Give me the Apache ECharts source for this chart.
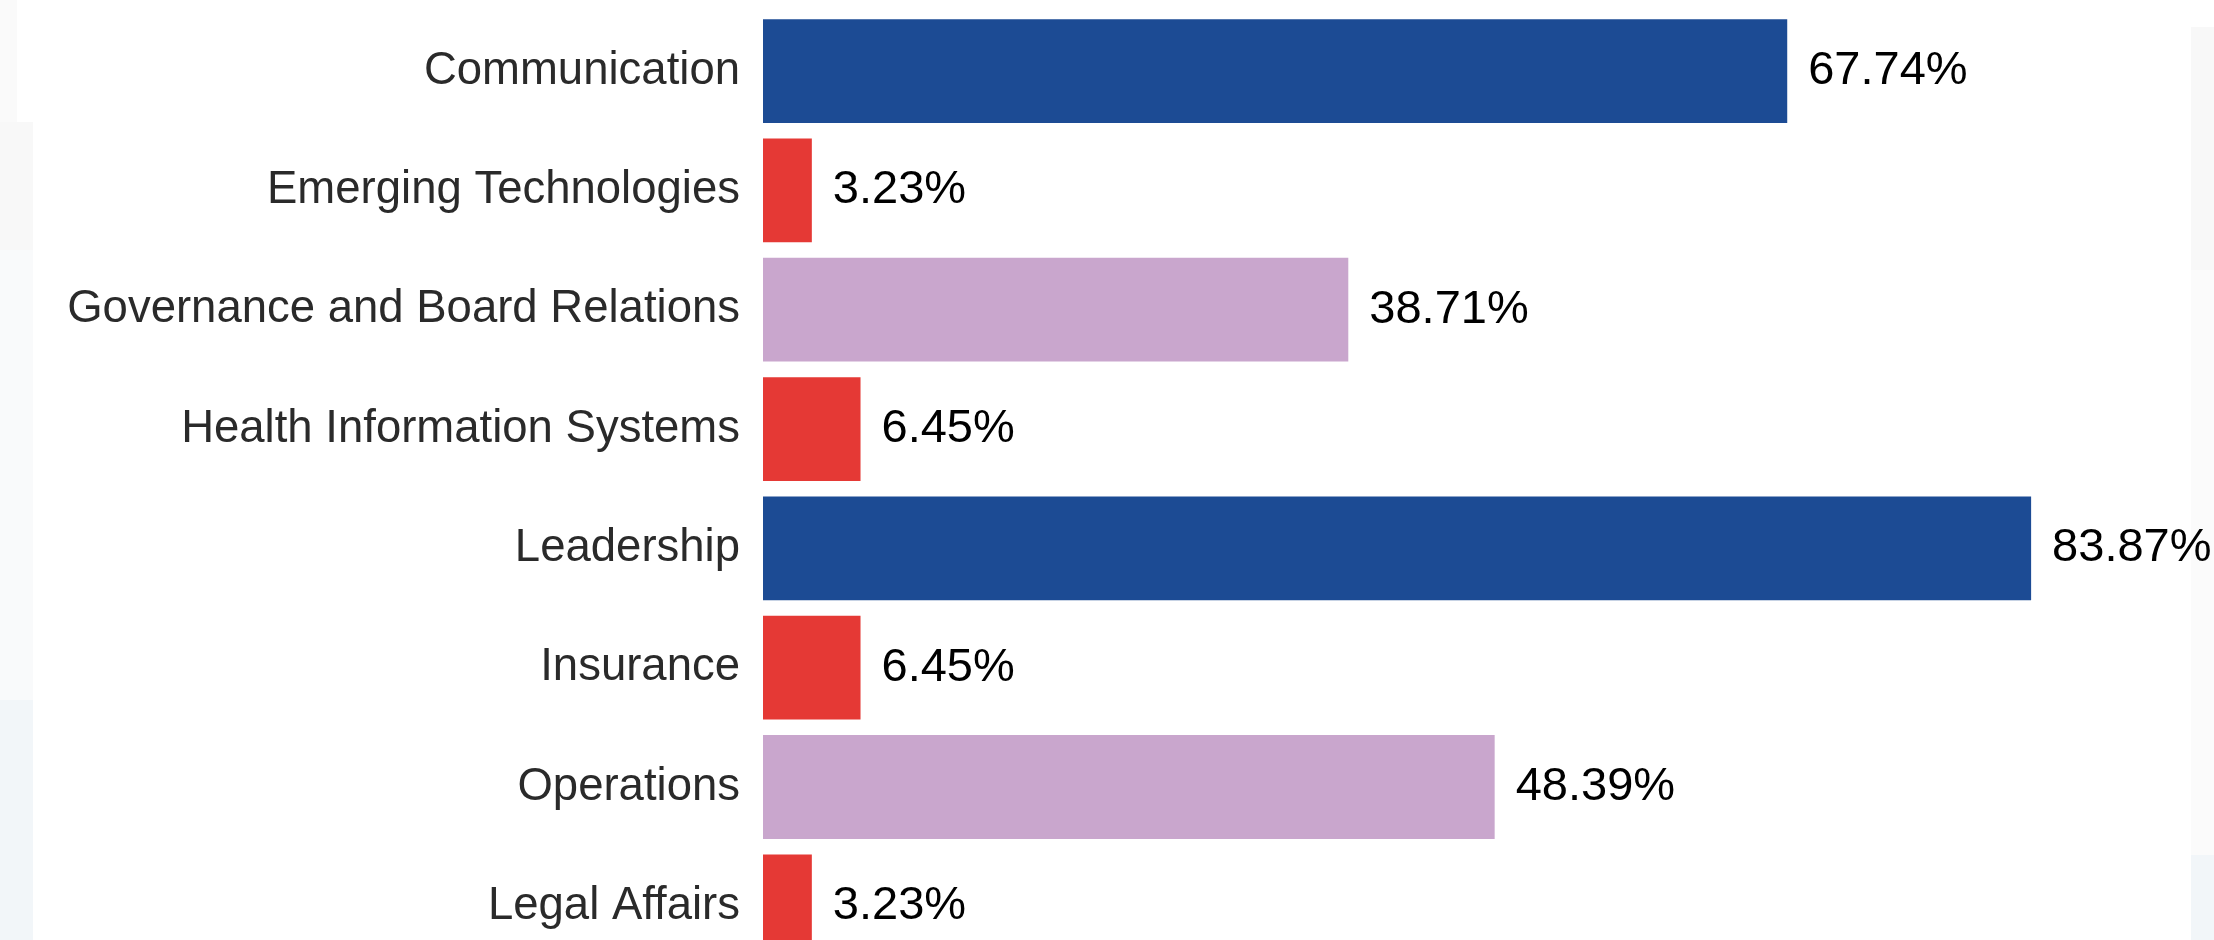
<!DOCTYPE html>
<html>
<head>
<meta charset="utf-8">
<script src="https://cdn.jsdelivr.net/npm/echarts@6/dist/echarts.min.js"></script>
<style>
  html, body { margin: 0; padding: 0; background: #ffffff; }
  #chart { width: 2214px; height: 940px; }
</style>
</head>
<body>
<div id="chart"></div>
<script>
const categories = [
  'Communication',
  'Emerging Technologies',
  'Governance and Board Relations',
  'Health Information Systems',
  'Leadership',
  'Insurance',
  'Operations',
  'Legal Affairs'
];
const values = [67.74, 3.23, 38.71, 6.45, 83.87, 6.45, 48.39, 3.23];
const barColors = ['#1c4b94', '#e53935', '#c9a6cd', '#e53935', '#1c4b94', '#e53935', '#c9a6cd', '#e53935'];

const chart = echarts.init(document.getElementById('chart'), null, { renderer: 'canvas' });

const option = {
  backgroundColor: '#ffffff',
  animation: false,
  graphic: [
    { type: 'rect', shape: { x: 0, y: 0, width: 17, height: 122 }, style: { fill: '#fafafa' }, z: -10 },
    { type: 'rect', shape: { x: 0, y: 122, width: 33, height: 128 }, style: { fill: '#f8f8f8' }, z: -10 },
    { type: 'rect', shape: { x: 0, y: 250, width: 33, height: 450 }, style: { fill: '#f9fafb' }, z: -10 },
    { type: 'rect', shape: { x: 0, y: 700, width: 33, height: 240 }, style: { fill: '#f2f6f9' }, z: -10 },
    { type: 'rect', shape: { x: 2191, y: 27, width: 23, height: 243 }, style: { fill: '#f8f8f8' }, z: -10 },
    { type: 'rect', shape: { x: 2191, y: 270, width: 23, height: 585 }, style: { fill: '#fbfbfb' }, z: -10 },
    { type: 'rect', shape: { x: 2191, y: 855, width: 23, height: 85 }, style: { fill: '#f2f6f9' }, z: -10 }
  ],
  grid: {
    left: 763,
    top: 11.4,
    width: 1436.4,
    height: 954.6,
    containLabel: false,
    outerBoundsMode: 'none'
  },
  xAxis: {
    type: 'value',
    min: 0,
    max: 95,
    show: false
  },
  yAxis: {
    type: 'category',
    data: categories,
    inverse: true,
    axisLine: { show: false },
    axisTick: { show: false },
    splitLine: { show: false },
    axisLabel: {
      fontFamily: 'Liberation Sans, Arial, sans-serif',
      fontSize: 45.5,
      color: '#2a2a2a',
      margin: 23
    }
  },
  series: [{
    type: 'bar',
    data: values.map((v, i) => ({ value: v, itemStyle: { color: barColors[i] } })),
    barCategoryGap: '13%',
    label: {
      show: true,
      position: 'right',
      distance: 21,
      fontFamily: 'Liberation Sans, Arial, sans-serif',
      fontSize: 47,
      color: '#000000',
      formatter: p => p.value.toFixed(2) + '%'
    }
  }]
};

chart.setOption(option);
</script>
</body>
</html>
